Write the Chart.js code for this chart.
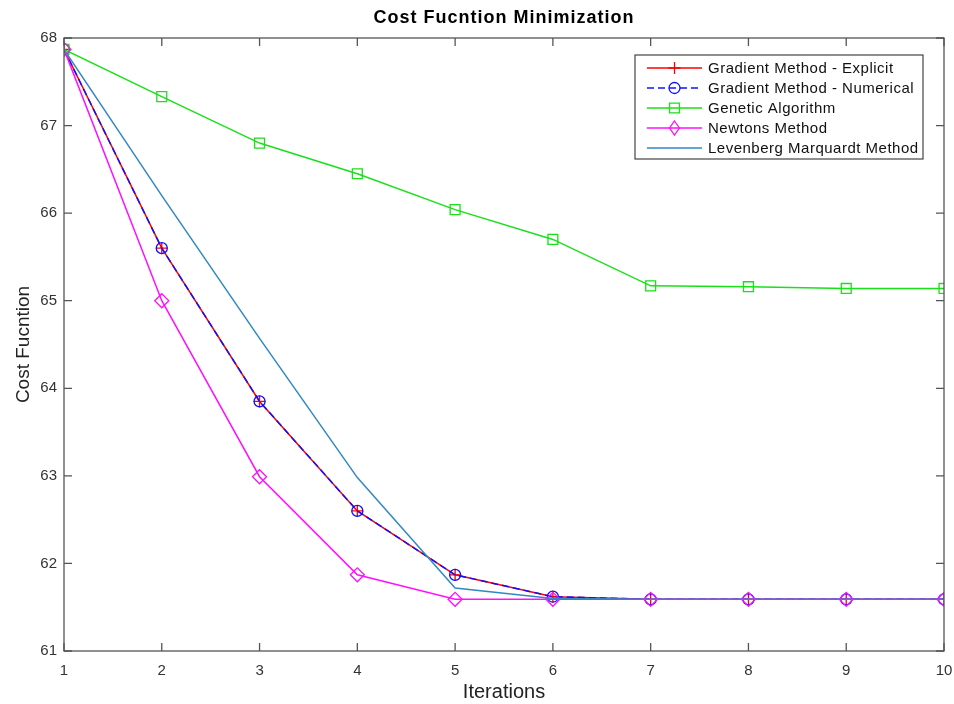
<!DOCTYPE html>
<html>
<head>
<meta charset="utf-8">
<script src="https://cdn.jsdelivr.net/npm/chart.js@4/dist/chart.umd.min.js"></script>
<style>
html,body{margin:0;padding:0;background:#fff;}
#c{display:block;}
</style>
</head>
<body>
<canvas id="c" width="954" height="704"></canvas>
<script>
// ---- data ----
const iterations = [1, 2, 3, 4, 5, 6, 7, 8, 9, 10];
const gradientExplicit = [67.87, 65.60, 63.85, 62.60, 61.87, 61.62, 61.59, 61.59, 61.59, 61.59];
const gradientNumerical = [67.87, 65.60, 63.85, 62.60, 61.87, 61.62, 61.59, 61.59, 61.59, 61.59];
const geneticAlgorithm = [67.87, 67.33, 66.80, 66.45, 66.04, 65.70, 65.17, 65.16, 65.14, 65.14];
const newtonsMethod = [67.87, 65.00, 62.99, 61.87, 61.59, 61.59, 61.59, 61.59, 61.59, 61.59];
const levenbergMarquardt = [67.87, 66.20, 64.57, 62.98, 61.72, 61.60, 61.59, 61.59, 61.59, 61.59];
const seriesNames = ['Gradient Method - Explicit', 'Gradient Method - Numerical', 'Genetic Algorithm', 'Newtons Method', 'Levenberg Marquardt Method'];
const yTicks = [61, 62, 63, 64, 65, 66, 67, 68];
const xTicks = iterations;
const chartTitle = 'Cost Fucntion Minimization';

const toXY = arr => arr.map((v, i) => ({x: iterations[i], y: v}));

const FONT = "'Liberation Sans', Arial, Helvetica, sans-serif";
const AXIS_COLOR = '#555555';

function drawMarker(ctx, style, x, y, r, color) {
  ctx.save();
  ctx.strokeStyle = color;
  ctx.lineWidth = 1.3;
  ctx.setLineDash([]);
  ctx.beginPath();
  if (style === 'cross') {
    ctx.moveTo(x - r, y); ctx.lineTo(x + r, y);
    ctx.moveTo(x, y - r); ctx.lineTo(x, y + r);
  } else if (style === 'circle') {
    ctx.arc(x, y, r, 0, Math.PI * 2);
  } else if (style === 'rect') {
    const s = r * Math.SQRT1_2;
    ctx.rect(x - s, y - s, 2 * s, 2 * s);
  } else if (style === 'rectRot') {
    ctx.moveTo(x, y - r); ctx.lineTo(x + r * 0.7, y);
    ctx.lineTo(x, y + r); ctx.lineTo(x - r * 0.7, y); ctx.closePath();
  }
  ctx.stroke();
  ctx.restore();
}

const framePlugin = {
  id: 'frame',
  afterDatasetsDraw(chart) {
    const {ctx, chartArea: a, scales} = chart;
    ctx.save();
    ctx.strokeStyle = AXIS_COLOR;
    ctx.lineWidth = 1.3;
    ctx.setLineDash([]);
    ctx.strokeRect(a.left, a.top, a.right - a.left, a.bottom - a.top);
    const tl = 8;
    ctx.beginPath();
    xTicks.forEach(v => {
      const px = scales.x.getPixelForValue(v);
      ctx.moveTo(px, a.bottom); ctx.lineTo(px, a.bottom - tl);
      ctx.moveTo(px, a.top); ctx.lineTo(px, a.top + tl);
    });
    yTicks.forEach(v => {
      const py = scales.y.getPixelForValue(v);
      ctx.moveTo(a.left, py); ctx.lineTo(a.left + tl, py);
      ctx.moveTo(a.right, py); ctx.lineTo(a.right - tl, py);
    });
    ctx.stroke();

    // title centred over the axes
    ctx.fillStyle = '#000000';
    ctx.font = 'bold 18px ' + FONT;
    try { ctx.letterSpacing = '1px'; } catch (e) {}
    ctx.textAlign = 'center';
    ctx.textBaseline = 'middle';
    ctx.fillText(chartTitle, (a.left + a.right) / 2, 18);

    // legend
    const lx = 635, ly = 55, lw = 288, lh = 104;
    ctx.fillStyle = '#ffffff';
    ctx.fillRect(lx, ly, lw, lh);
    ctx.strokeStyle = '#444444';
    ctx.lineWidth = 1.2;
    ctx.strokeRect(lx, ly, lw, lh);
    ctx.font = '15px ' + FONT;
    try { ctx.letterSpacing = '0.5px'; } catch (e) {}
    ctx.textBaseline = 'middle';
    ctx.textAlign = 'left';
    chart.data.datasets.forEach((ds, i) => {
      const yy = ly + 13 + i * 20;
      ctx.save();
      ctx.strokeStyle = ds.borderColor;
      ctx.lineWidth = 1.5;
      ctx.setLineDash(ds.borderDash || []);
      ctx.beginPath();
      ctx.moveTo(lx + 12, yy); ctx.lineTo(lx + 67, yy);
      ctx.stroke();
      ctx.restore();
      if (ds.pointRadius > 0) drawMarker(ctx, ds.pointStyle, lx + 39.5, yy, ds.pointRadius, ds.borderColor);
      ctx.fillStyle = '#111111';
      ctx.fillText(ds.label, lx + 73, yy + 1);
    });
    try { ctx.letterSpacing = '0px'; } catch (e) {}
    ctx.restore();
  }
};

const common = {fill: false, tension: 0, borderWidth: 1.5, pointBorderWidth: 1.3, pointBackgroundColor: 'rgba(0,0,0,0)', pointHoverRadius: 0};

new Chart(document.getElementById('c'), {
  type: 'line',
  data: {
    datasets: [
      Object.assign({}, common, {label: seriesNames[0], data: toXY(gradientExplicit), borderColor: '#ff0000', pointBorderColor: '#ff0000', pointStyle: 'cross', pointRadius: 6, order: 5}),
      Object.assign({}, common, {label: seriesNames[1], data: toXY(gradientNumerical), borderColor: '#1010ff', pointBorderColor: '#1010ff', borderDash: [7, 4], pointStyle: 'circle', pointRadius: 5.5, order: 4}),
      Object.assign({}, common, {label: seriesNames[2], data: toXY(geneticAlgorithm), borderColor: '#19e019', pointBorderColor: '#19e019', pointStyle: 'rect', pointRadius: 7, order: 3}),
      Object.assign({}, common, {label: seriesNames[3], data: toXY(newtonsMethod), borderColor: '#ff10ff', pointBorderColor: '#ff10ff', pointStyle: 'rectRot', pointRadius: 7, order: 2}),
      Object.assign({}, common, {label: seriesNames[4], data: toXY(levenbergMarquardt), borderColor: '#3189c4', pointStyle: 'circle', pointRadius: 0, order: 1})
    ]
  },
  options: {
    responsive: false,
    animation: false,
    devicePixelRatio: 1,
    layout: {padding: {top: 38, right: 10, bottom: 0, left: 0}},
    plugins: {
      legend: {display: false},
      tooltip: {enabled: false},
      title: {display: false}
    },
    scales: {
      x: {
        type: 'linear',
        min: 1, max: 10,
        grid: {display: false, drawTicks: false},
        border: {display: false},
        afterBuildTicks: s => { s.ticks = xTicks.map(v => ({value: v})); },
        afterFit: s => { s.height = 53; s.paddingLeft = 0; s.paddingRight = 0; },
        ticks: {color: '#333333', padding: 11, font: {family: FONT, size: 15}, maxRotation: 0},
        title: {display: true, text: 'Iterations', color: '#222222', font: {family: FONT, size: 20}, padding: {top: 0, bottom: 0}}
      },
      y: {
        type: 'linear',
        min: 61, max: 68,
        grid: {display: false, drawTicks: false},
        border: {display: false},
        afterBuildTicks: s => { s.ticks = yTicks.map(v => ({value: v})); },
        afterFit: s => { s.width = 64; s.paddingTop = 0; s.paddingBottom = 0; },
        ticks: {color: '#333333', padding: 7, font: {family: FONT, size: 15}},
        title: {display: true, text: 'Cost Fucntion', color: '#222222', font: {family: FONT, size: 19}, padding: {top: 12, bottom: 0}}
      }
    }
  },
  plugins: [framePlugin]
});
</script>
</body>
</html>
